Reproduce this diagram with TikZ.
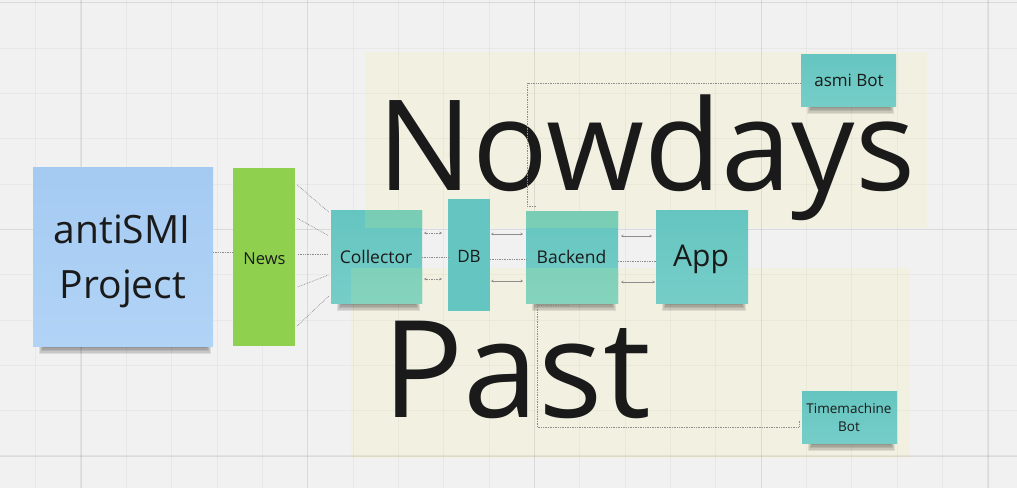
\documentclass[tikz,border=0pt]{standalone}
\usepackage{fontspec}
\setmainfont{Open Sans}
\usetikzlibrary{arrows.meta}
\definecolor{bg}{HTML}{F1F1F1}
\definecolor{panel}{HTML}{F2F1E1}
\definecolor{noteblue}{HTML}{A5CAF2}
\definecolor{noteblueb}{HTML}{B1D3F6}
\definecolor{newsgreen}{HTML}{8FD14F}
\definecolor{teal1}{HTML}{65C5C0}
\definecolor{teal2}{HTML}{76CDC8}
\definecolor{mint1}{HTML}{78CDB4}
\definecolor{mint2}{HTML}{85D3BC}
\definecolor{ink}{HTML}{1A1A1A}
\definecolor{conn}{HTML}{8C8C8C}
\pgfdeclarelayer{back}
\pgfdeclarelayer{shad}
\pgfsetlayers{back,shad,main}
\tikzset{
  box/.style={inner sep=0pt, outer sep=0pt, draw=none},
  tealnote/.style={box, top color=teal1, bottom color=teal2},
  lbl/.style={inner sep=0pt, text=ink, anchor=base},
  dotline/.style={draw=conn, line width=0.7pt, densely dotted},
  solline/.style={draw=conn, line width=0.8pt},
  tinytips/.style={{Stealth[length=2.5pt,width=2.5pt]}-{Stealth[length=2.5pt,width=2.5pt]}},
  gridthin/.style={draw=black, draw opacity=0.035, line width=1pt},
  gridthick/.style={draw=black, draw opacity=0.06, line width=1.3pt},
}
\newcommand\nshadow[1]{%
  \foreach \i in {0,1,2,3,4}{%
    \fill[black, opacity=0.09] ([xshift={(6+\i)*1pt}]#1.south west) rectangle ([xshift={(-2-\i)*1pt}, yshift={(-8+1.5*\i)*1pt}]#1.south east);
  }%
}
\begin{document}
\begin{tikzpicture}[x=1pt, y=-1pt]
\useasboundingbox (0,0) rectangle (1017,488);
\begin{pgfonlayer}{back}
  \fill[bg] (0,0) rectangle (1017,488);
  \fill[panel] (365,52) rectangle (927,228);
  \fill[panel] (351,268) rectangle (910,458);
  \foreach \k in {-1,...,20} \draw[gridthin] ({81+45.35*\k},0) -- ({81+45.35*\k},488);
  \foreach \k in {0,...,10} \draw[gridthin] (0,{2.7+45.33*\k}) -- (1017,{2.7+45.33*\k});
  \foreach \x in {81,307.75,534.5,761.25,988} \draw[gridthick] (\x,0) -- (\x,488);
  \foreach \y in {2.7,229.35,456} \draw[gridthick] (0,\y) -- (1017,\y);
  \node[lbl, font=\fontsize{126}{150}\selectfont] (nowdays) at (646.5,190) {Nowdays};
  \node[lbl, font=\fontsize{135}{160}\selectfont] (past) at (516.5,417) {Past};
\end{pgfonlayer}

% notes
\node[box, top color=noteblue, bottom color=noteblueb, minimum width=180pt, minimum height=179pt] (antismi) at (123,256.5) {};
\node[box, fill=newsgreen, minimum width=62pt, minimum height=178pt] (news) at (264,257) {};
\node[tealnote, minimum width=91pt, minimum height=93pt] (collector) at (376.5,256.5) {};
\node[box, fill=teal1, minimum width=42pt, minimum height=112pt] (db) at (469,255) {};
\node[tealnote, minimum width=92pt, minimum height=92pt] (backend) at (572,257) {};
\node[tealnote, minimum width=92pt, minimum height=93pt] (app) at (702,256.5) {};
\node[tealnote, minimum width=95pt, minimum height=52pt] (asmibot) at (848.5,80) {};
\node[tealnote, minimum width=95pt, minimum height=52pt] (tmbot) at (849.5,417) {};

% greenish tint where notes lie over the panels
\begin{scope}
  \clip (365,52) rectangle (927,228) (351,268) rectangle (910,458);
  \shade[top color=mint1, bottom color=mint2] (collector.south west) rectangle (collector.north east);
  \shade[top color=mint1, bottom color=mint2] (backend.south west) rectangle (backend.north east);
\end{scope}

\begin{pgfonlayer}{shad}
  \nshadow{antismi}
  \nshadow{collector}
  \nshadow{backend}
  \nshadow{app}
  \nshadow{asmibot}
  \nshadow{tmbot}
\end{pgfonlayer}

% labels
\node[lbl, font=\fontsize{39}{47}\selectfont] (antismiA) at (122,243) {antiSMI};
\node[lbl, font=\fontsize{39}{47}\selectfont] (antismiB) at (123,298) {Project};
\node[lbl, font=\fontsize{16.5}{20}\selectfont] (newsT) at (264.5,264) {News};
\node[lbl, font=\fontsize{17.5}{21}\selectfont] (collectorT) at (376,263) {Collector};
\node[lbl, font=\fontsize{17}{21}\selectfont] (dbT) at (469,262) {DB};
\node[lbl, font=\fontsize{17.5}{21}\selectfont] (backendT) at (571.5,263) {Backend};
\node[lbl, font=\fontsize{30}{36}\selectfont] (appT) at (701,266) {App};
\node[lbl, font=\fontsize{17}{21}\selectfont] (asmibotT) at (849,86) {asmi Bot};
\node[lbl, font=\fontsize{13.5}{17}\selectfont] (tmbotA) at (849,413) {Timemachine};
\node[lbl, font=\fontsize{13.5}{17}\selectfont] (tmbotB) at (849,431) {Bot};

% connectors
\draw[dotline] (antismi.east |- 0,252) -- (news.west |- 0,252);
\foreach \a/\b in {183/214, 217/237, 254/254, 288/274, 328/294}
  \draw[dotline, shorten <=3pt, shorten >=3pt] (news.east |- 0,\a) -- (collector.west |- 0,\b);

\draw[dotline, tinytips, shorten <=2pt, shorten >=6pt] (collector.east |- 0,233) -- (db.west |- 0,233);
\draw[dotline] (collector.east |- 0,257) -- (db.west |- 0,257);
\draw[dotline, tinytips, shorten <=2pt, shorten >=6pt] (collector.east |- 0,279) -- (db.west |- 0,279);

\draw[solline, tinytips, shorten <=1pt, shorten >=3pt] (db.east |- 0,234) -- (backend.west |- 0,234);
\draw[dotline] (db.east |- 0,259) -- (backend.west |- 0,259);
\draw[solline, tinytips, shorten <=1pt, shorten >=3pt] (db.east |- 0,281) -- (backend.west |- 0,281);

\draw[solline, tinytips, shorten <=3pt, shorten >=4pt] (backend.east |- 0,236) -- (app.west |- 0,236);
\draw[dotline] (backend.east |- 0,261) -- (app.west |- 0,261);
\draw[solline, tinytips, shorten <=3pt, shorten >=1pt] (backend.east |- 0,282) -- (app.west |- 0,282);

\draw[dotline] ([xshift=10pt, yshift=5pt]backend.north west) -- ++(-9,0) |- (asmibot.west |- 0,83);
\draw[dotline] ([xshift=43pt, yshift=-2pt]backend.south west) -- ++(-32,0) |- ([xshift=-3pt]tmbot.west |- 0,427) -- ++(0,-7);
\end{tikzpicture}
\end{document}
